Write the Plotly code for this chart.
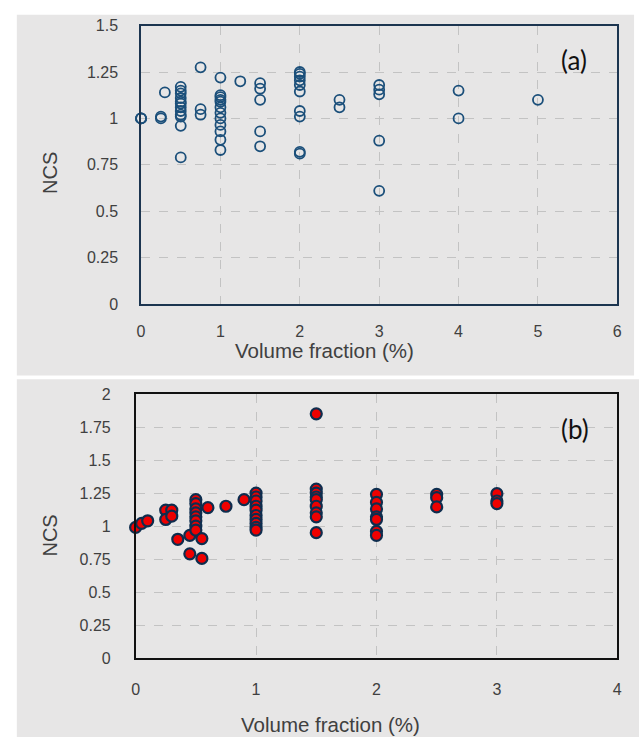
import plotly.graph_objects as go

# Panel (a) data
a_x = [0, 0, 0,
       0.25, 0.25, 0.3,
       0.5, 0.5, 0.5, 0.5, 0.5, 0.5, 0.5, 0.5, 0.5, 0.5, 0.5, 0.5,
       0.75, 0.75, 0.75,
       1, 1, 1, 1, 1, 1, 1, 1, 1, 1, 1, 1,
       1.25,
       1.5, 1.5, 1.5, 1.5, 1.5,
       2, 2, 2, 2, 2, 2, 2, 2, 2, 2,
       2.5, 2.5,
       3, 3, 3, 3, 3,
       4, 4,
       5]
a_y = [1.0, 1.0, 1.0,
       1.0, 1.01, 1.14,
       1.17, 1.15, 1.135, 1.11, 1.09, 1.08, 1.06, 1.04, 1.02, 1.01, 0.96, 0.79,
       1.275, 1.05, 1.02,
       1.22, 1.125, 1.115, 1.10, 1.09, 1.06, 1.03, 1.0, 0.965, 0.93, 0.885, 0.83,
       1.2,
       1.19, 1.16, 1.10, 0.93, 0.85,
       1.25, 1.24, 1.225, 1.205, 1.18, 1.145, 1.04, 1.01, 0.82, 0.81,
       1.10, 1.06,
       1.18, 1.155, 1.13, 0.88, 0.61,
       1.15, 1.0,
       1.10]

# Panel (b) data
b_x = [0, 0.05, 0.1,
       0.25, 0.25, 0.3, 0.3,
       0.35, 0.45, 0.45,
       0.5, 0.5, 0.5, 0.5, 0.5, 0.5, 0.5, 0.5,
       0.55, 0.55, 0.6, 0.75, 0.9,
       1, 1, 1, 1, 1, 1, 1, 1, 1, 1,
       1.5, 1.5, 1.5, 1.5, 1.5, 1.5, 1.5, 1.5, 1.5,
       2, 2, 2, 2, 2, 2, 2,
       2.5, 2.5, 2.5,
       3, 3, 3]
b_y = [0.99, 1.02, 1.04,
       1.12, 1.05, 1.12, 1.075,
       0.90, 0.93, 0.79,
       1.2, 1.17, 1.13, 1.1, 1.07, 1.04, 1.0, 0.97,
       0.905, 0.755, 1.14, 1.15, 1.2,
       1.25, 1.22, 1.19, 1.15, 1.12, 1.08, 1.05, 1.02, 0.99, 0.97,
       1.85, 1.28, 1.25, 1.22, 1.2, 1.15, 1.1, 1.07, 0.95,
       1.24, 1.18, 1.13, 1.07, 1.05, 0.96, 0.93,
       1.24, 1.215, 1.145,
       1.245, 1.19, 1.17]

a_xticks = [0, 1, 2, 3, 4, 5, 6]
a_yticks = [0, 0.25, 0.5, 0.75, 1, 1.25, 1.5]
a_yticklabels = ["0", "0.25", "0.5", "0.75", "1", "1.25", "1.5"]
b_xticks = [0, 1, 2, 3, 4]
b_yticks = [0, 0.25, 0.5, 0.75, 1, 1.25, 1.5, 1.75, 2]
b_yticklabels = ["0", "0.25", "0.5", "0.75", "1", "1.25", "1.5", "1.75", "2"]

W, H = 644, 746
BG = "#e7e6e6"
GRID = "#c3c3c3"
TXT = "#404040"
FONT = "Liberation Sans"

fig = go.Figure()
fig.add_trace(go.Scatter(
    x=a_x, y=a_y, mode="markers", xaxis="x", yaxis="y", cliponaxis=False,
    marker=dict(symbol="circle-open", size=10, color="#1b4f7a",
                line=dict(width=1.8, color="#1b4f7a")),
    showlegend=False))
fig.add_trace(go.Scatter(
    x=b_x, y=b_y, mode="markers", xaxis="x2", yaxis="y2", cliponaxis=False,
    marker=dict(symbol="circle", size=11, color="#ee0000",
                line=dict(width=2.2, color="#0e2d4e")),
    showlegend=False))

def px(v):
    return v / W

def py(v):
    return 1 - v / H

axis_common = dict(showgrid=True, gridcolor=GRID, griddash="dash", gridwidth=1,
                   zeroline=False, showline=True, mirror=True, ticks="",
                   tickfont=dict(family=FONT, size=16, color=TXT))

fig.update_layout(
    width=W, height=H, margin=dict(l=0, r=0, t=0, b=0),
    paper_bgcolor="white", plot_bgcolor="rgba(0,0,0,0)",
    xaxis=dict(domain=[px(139), px(622)], range=[0, 6], tickvals=a_xticks,
               anchor="y", linecolor="#1c3550", linewidth=1.5,
               ticklabelstandoff=12, **axis_common),
    yaxis=dict(domain=[py(303), py(18)], range=[0, 1.5], tickvals=a_yticks,
               ticktext=a_yticklabels, anchor="x", linecolor="#1c3550",
               linewidth=1.5, ticklabelstandoff=18, **axis_common),
    xaxis2=dict(domain=[px(133.5), px(622)], range=[0, 4], tickvals=b_xticks,
                anchor="y2", linecolor="#111111", linewidth=1.5,
                ticklabelstandoff=16, **axis_common),
    yaxis2=dict(domain=[py(665.3), py(395)], range=[0, 2], tickvals=b_yticks,
                ticktext=b_yticklabels, anchor="x2", linecolor="#111111",
                linewidth=1.5, ticklabelstandoff=20, **axis_common),
    shapes=[
        dict(type="rect", xref="paper", yref="paper", layer="below",
             x0=px(13), x1=px(639), y0=py(376), y1=py(7),
             fillcolor=BG, line=dict(width=0)),
        dict(type="rect", xref="paper", yref="paper", layer="below",
             x0=px(13), x1=1, y0=0, y1=py(380),
             fillcolor=BG, line=dict(width=0)),
    ],
    annotations=[
        dict(text="NCS", x=px(46.5), y=py(169), xref="paper", yref="paper",
             textangle=-90, showarrow=False, xanchor="center", yanchor="middle",
             font=dict(family=FONT, size=20, color=TXT)),
        dict(text="NCS", x=px(46.5), y=py(540), xref="paper", yref="paper",
             textangle=-90, showarrow=False, xanchor="center", yanchor="middle",
             font=dict(family=FONT, size=20, color=TXT)),
        dict(text="Volume fraction (%)", x=px(325), y=py(350), xref="paper",
             yref="paper", showarrow=False, xanchor="center", yanchor="middle",
             font=dict(family=FONT, size=20.5, color=TXT)),
        dict(text="Volume fraction (%)", x=px(331), y=py(733), xref="paper",
             yref="paper", showarrow=False, xanchor="center", yanchor="middle",
             font=dict(family=FONT, size=20.5, color=TXT)),
        dict(text="(a)", x=px(578), y=py(53), xref="paper", yref="paper",
             showarrow=False, xanchor="center", yanchor="middle",
             font=dict(family="Lato", size=26, color="#111111")),
        dict(text="(b)", x=px(579), y=py(431), xref="paper", yref="paper",
             showarrow=False, xanchor="center", yanchor="middle",
             font=dict(family="Lato", size=26, color="#111111")),
    ],
)

fig.write_html("out.html")
